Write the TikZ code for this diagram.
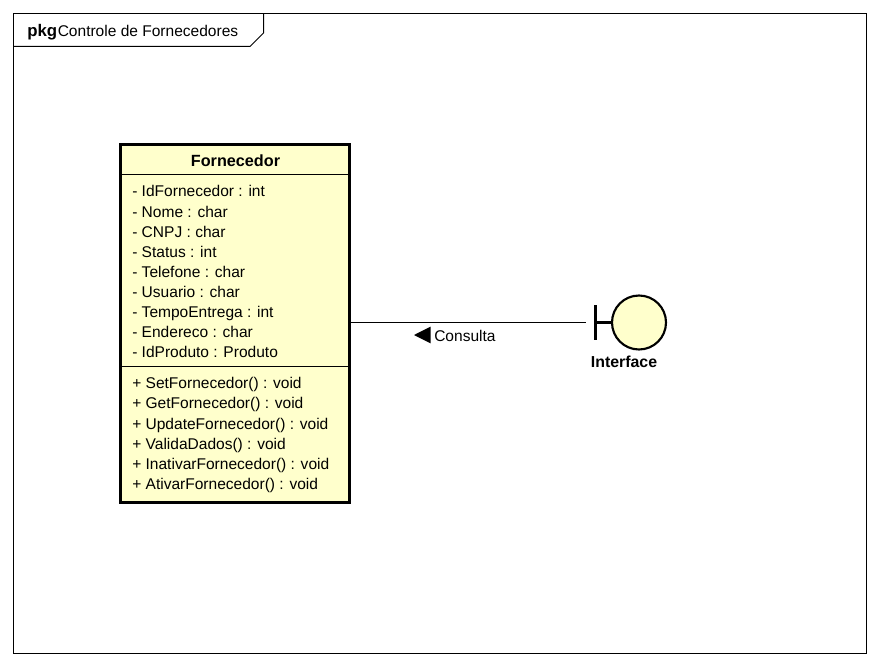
\documentclass[tikz,border=0pt]{standalone}
\usepackage{fontspec}
\setmainfont{Liberation Sans}
\definecolor{cfill}{HTML}{FFFFCC}
\tikzset{
  txt/.style={inner sep=0pt,anchor=base west,font=\fontsize{11.65pt}{13pt}\selectfont,text=black},
  boldtxt/.style={inner sep=0pt,anchor=base,text=black},
  thin frame/.style={line width=0.75pt},
  heavy/.style={line width=2.2pt},
  symbol/.style={line width=1.6pt}
}
\begin{document}
\begin{tikzpicture}[x=0.75pt,y=-0.75pt]
\useasboundingbox (0,0) rectangle (880,666);
\fill[white] (0,0) rectangle (880,666);
\draw[thin frame] (13.5,13.5) rectangle (866.5,653.7);
\draw[thin frame] (13.5,46.5) -- (250,46.5) -- (263.5,33) -- (263.5,13.5);
\node[boldtxt,anchor=base west,font=\fontsize{12.6pt}{14pt}\selectfont\bfseries] (pkgkw) at (27,37) {pkg};
\node[txt] (pkgname) at (57.5,37) {Controle de Fornecedores};
\draw[heavy,fill=cfill] (120.5,144.5) rectangle (349.5,502.5);
\draw[thin frame] (120.5,174.5) -- (349.5,174.5);
\draw[thin frame] (120.5,366.5) -- (349.5,366.5);
\node[boldtxt,font=\fontsize{12.15pt}{14pt}\selectfont\bfseries] (cname) at (235.5,167) {Fornecedor};
\node[txt] (a1) at (132,196.5) {- IdFornecedor : int};
\node[txt] (a2) at (132,217.5) {- Nome : char};
\node[txt] (a3) at (132,238) {- CNPJ : char};
\node[txt] (a4) at (132,257.5) {- Status : int};
\node[txt] (a5) at (132,277.5) {- Telefone : char};
\node[txt] (a6) at (132,297.5) {- Usuario : char};
\node[txt] (a7) at (132,317.5) {- TempoEntrega : int};
\node[txt] (a8) at (132,337.5) {- Endereco : char};
\node[txt] (a9) at (132,357.5) {- IdProduto : Produto};
\node[txt] (m1) at (132,388.5) {+ SetFornecedor() : void};
\node[txt] (m2) at (132,408.5) {+ GetFornecedor() : void};
\node[txt] (m3) at (132,429) {+ UpdateFornecedor() : void};
\node[txt] (m4) at (132,449) {+ ValidaDados() : void};
\node[txt] (m5) at (132,469) {+ InativarFornecedor() : void};
\node[txt] (m6) at (132,489) {+ AtivarFornecedor() : void};
\coordinate (cr) at (350,322.5);
\coordinate (br) at (586,322.5);
\draw[line width=1pt] (cr) -- (br);
\fill[black] (414,335) -- (430.5,326.7) -- (430.5,343.3) -- cycle;
\node[txt] (assoc) at (434,341.5) {Consulta};
\draw[symbol,fill=cfill] (639,322.5) circle (27);
\draw[symbol] (595.5,305) -- (595.5,340);
\draw[symbol] (595.5,322.5) -- (612,322.5);
\node[boldtxt,font=\fontsize{11.9pt}{14pt}\selectfont\bfseries] (iface) at (624,367) {Interface};
\end{tikzpicture}
\end{document}
